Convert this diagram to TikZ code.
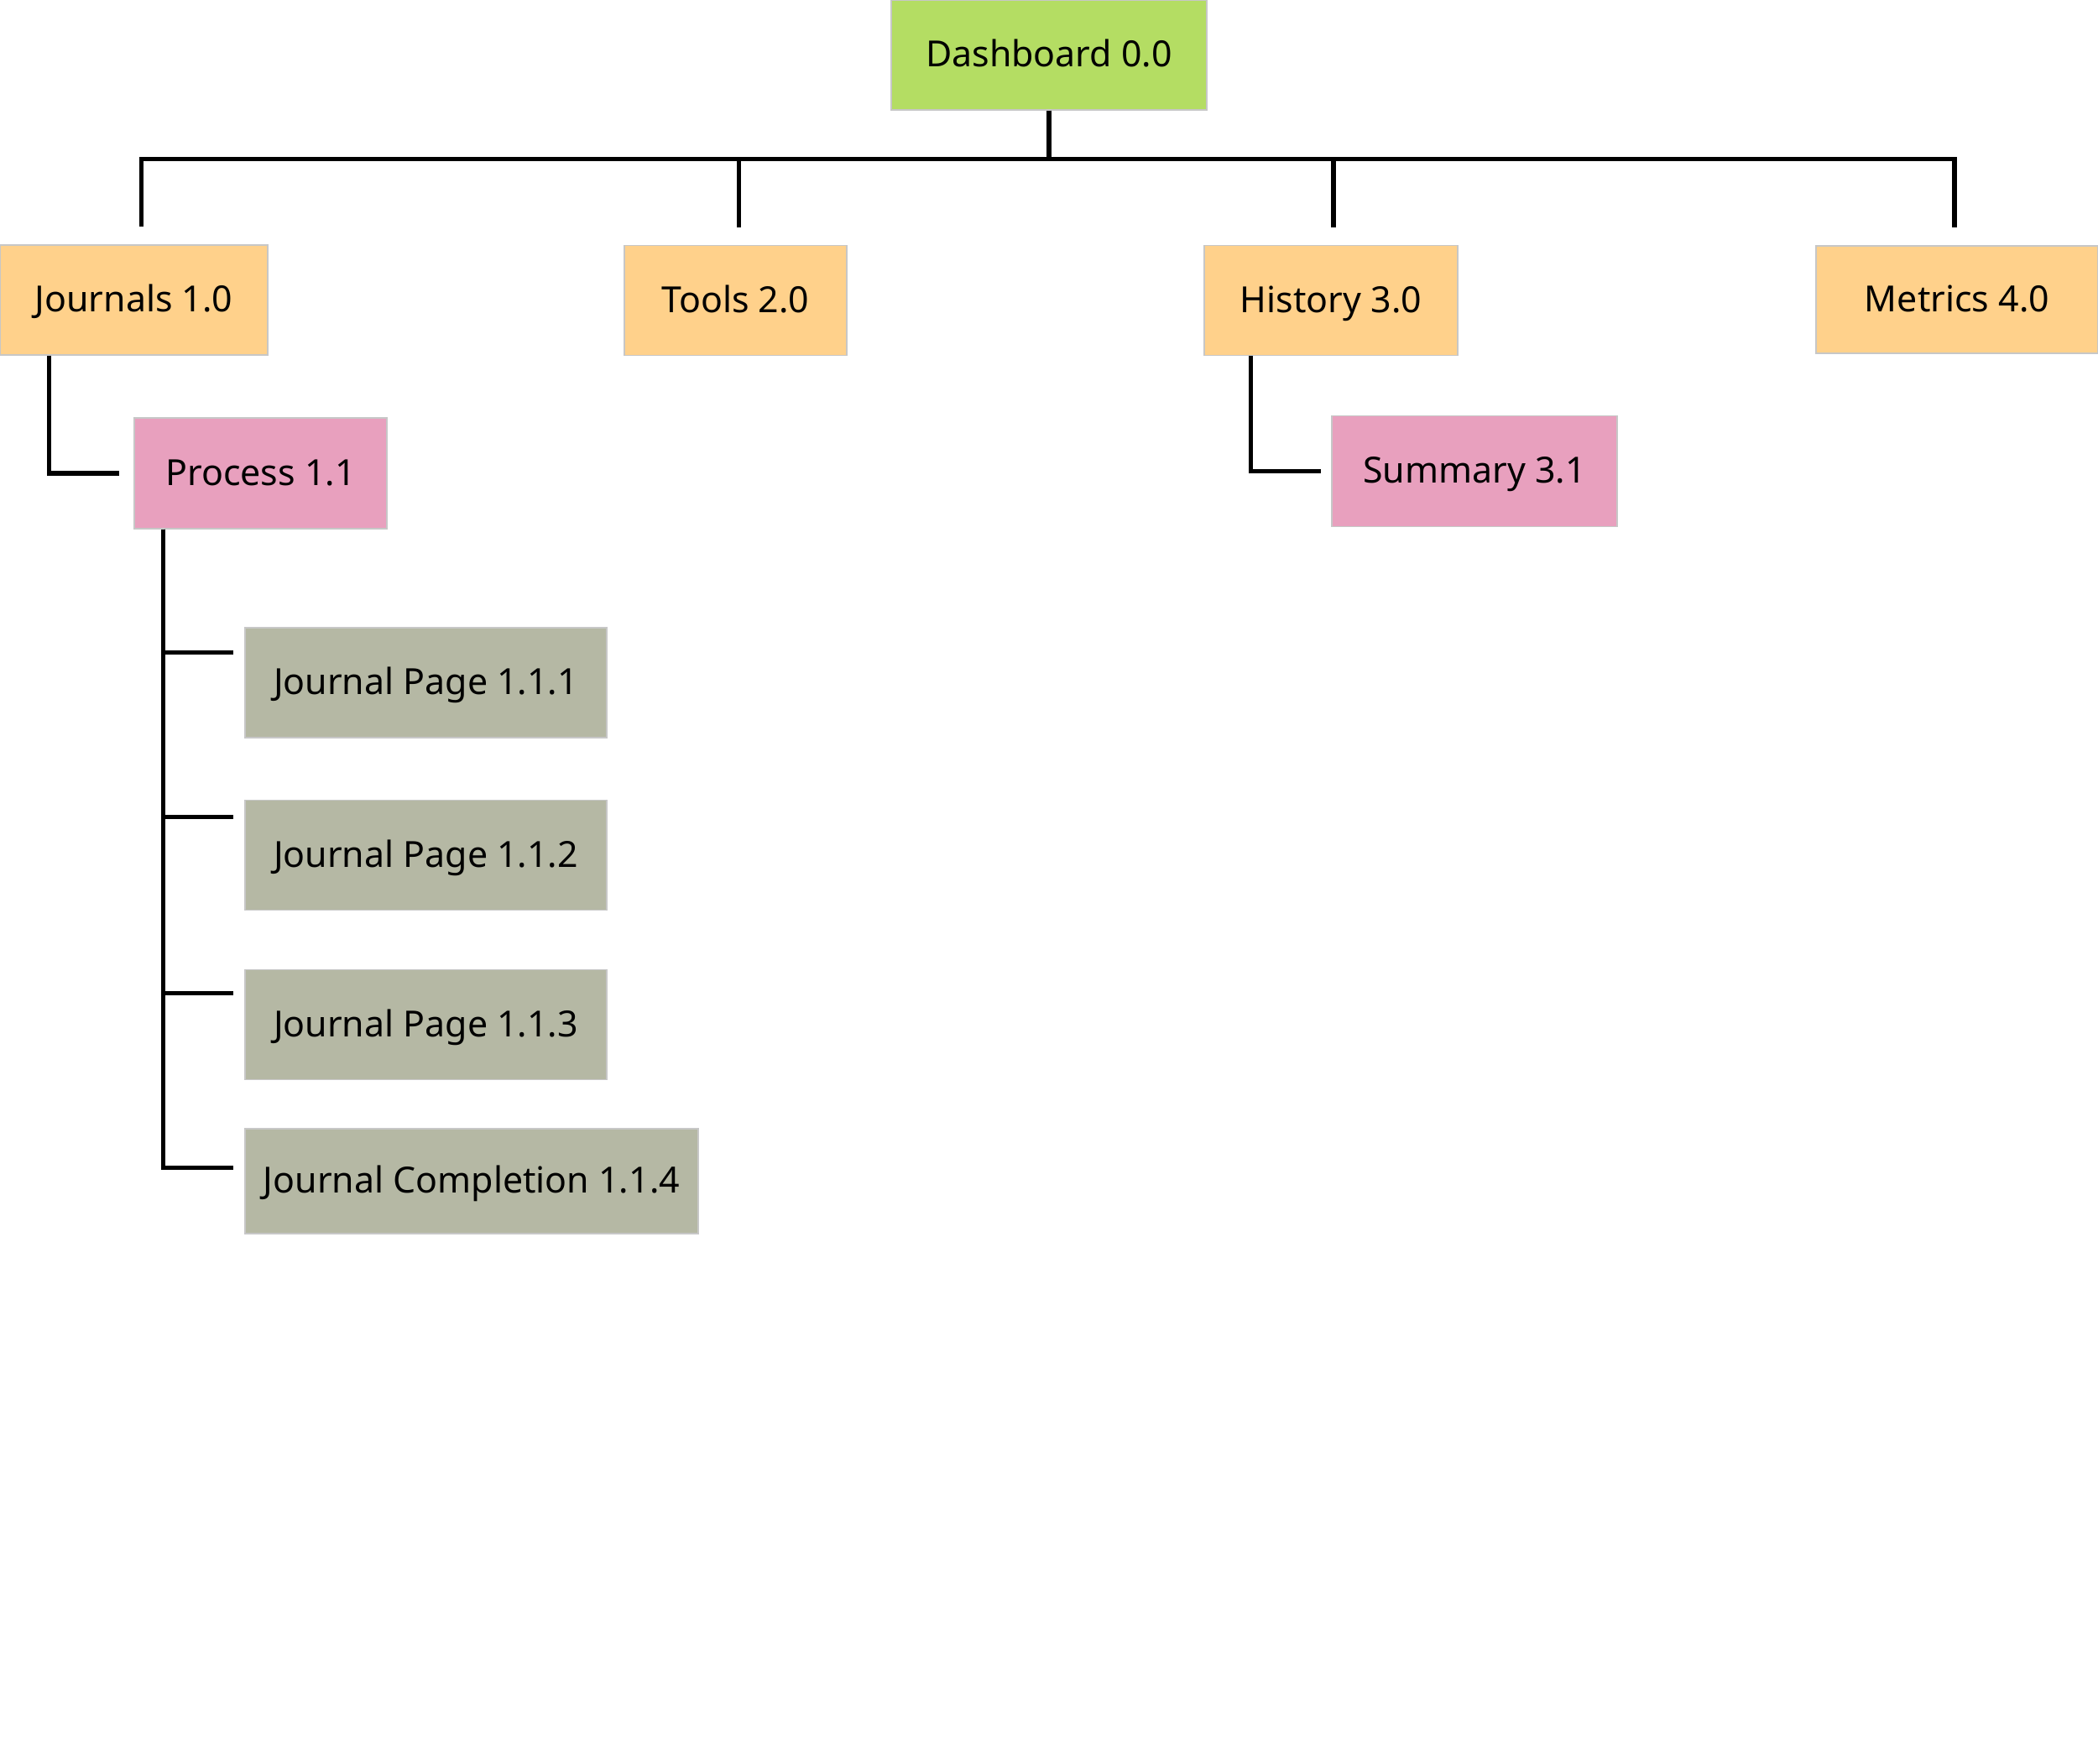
\documentclass[tikz,border=0pt]{standalone}
\usepackage{fontspec}
\setmainfont{Noto Sans}
\usetikzlibrary{calc}

\definecolor{verde}{HTML}{B4DD63}
\definecolor{laranja}{HTML}{FFD18B}
\definecolor{rosa}{HTML}{E8A0BE}
\definecolor{cinza}{HTML}{B5B8A4}

\tikzset{
	caixa/.style={draw=black!22, line width=0.4pt, inner sep=0pt, minimum height=1.31cm,
		text height=0.82em, text depth=0pt, font=\fontsize{12.2}{15}\selectfont},
	ligacao/.style={line width=1.45pt}
}

\begin{document}
\begin{tikzpicture}
			\useasboundingbox (0,0) rectangle (25,-21.02);
			
			%caixa do topo
			\node[caixa, fill=verde, minimum width=3.76cm] (dash) at (12.50,-0.655) {Dashboard 0.0};
			
			%caixas do primeiro nivel
			\node[caixa, fill=laranja, minimum width=3.19cm] (journ) at (1.595,-3.575) {Journals 1.0};
			\node[caixa, fill=laranja, minimum width=2.65cm] (tools) at (8.765,-3.58) {Tools 2.0};
			\node[caixa, fill=laranja, minimum width=3.02cm] (hist) at (15.86,-3.58) {History 3.0};
			\node[caixa, fill=laranja, minimum width=3.36cm, minimum height=1.28cm] (metr) at (23.32,-3.57) {Metrics 4.0};
			
			%caixas do segundo nivel
			\node[caixa, fill=rosa, minimum width=3.01cm, minimum height=1.32cm] (proc) at (3.105,-5.64) {Process 1.1};
			\node[caixa, fill=rosa, minimum width=3.40cm, minimum height=1.32cm] (summ) at (17.57,-5.615) {Summary 3.1};
			
			%paginas do processo
			\node[caixa, fill=cinza, minimum width=4.31cm] (jp1) at (5.075,-8.135) {Journal Page 1.1.1};
			\node[caixa, fill=cinza, minimum width=4.31cm] (jp2) at (5.075,-10.19) {Journal Page 1.1.2};
			\node[caixa, fill=cinza, minimum width=4.31cm] (jp3) at (5.075,-12.21) {Journal Page 1.1.3};
			\node[caixa, fill=cinza, minimum width=5.40cm, minimum height=1.25cm] (jc) at (5.62,-14.075) {Journal Completion 1.1.4};
			
			%barra do topo
			\draw[ligacao] (dash.south) -- ++(0,-0.58) coordinate (barra);
			\foreach \f/\dx in {journ/0.09, tools/0.04, hist/0.03, metr/-0.03}
				\draw[ligacao, shorten >=0.21cm] (barra) -| ([xshift=\dx cm]\f.north);
			
			%ligacoes do segundo nivel
			\draw[ligacao, shorten >=0.17cm] ([xshift=0.59cm]journ.south west) |- (proc.west);
			\draw[ligacao, shorten >=0.12cm] ([xshift=0.56cm]hist.south west) |- (summ.west);
			
			%ligacoes das paginas
			\foreach \f/\dy in {jp1/0.30, jp2/0.21, jp3/0.29, jc/0.47}
				\draw[ligacao, shorten >=0.13cm] ([xshift=0.35cm]proc.south west) |- ([yshift=-\dy cm]\f.north west);
		\end{tikzpicture}
\end{document}
